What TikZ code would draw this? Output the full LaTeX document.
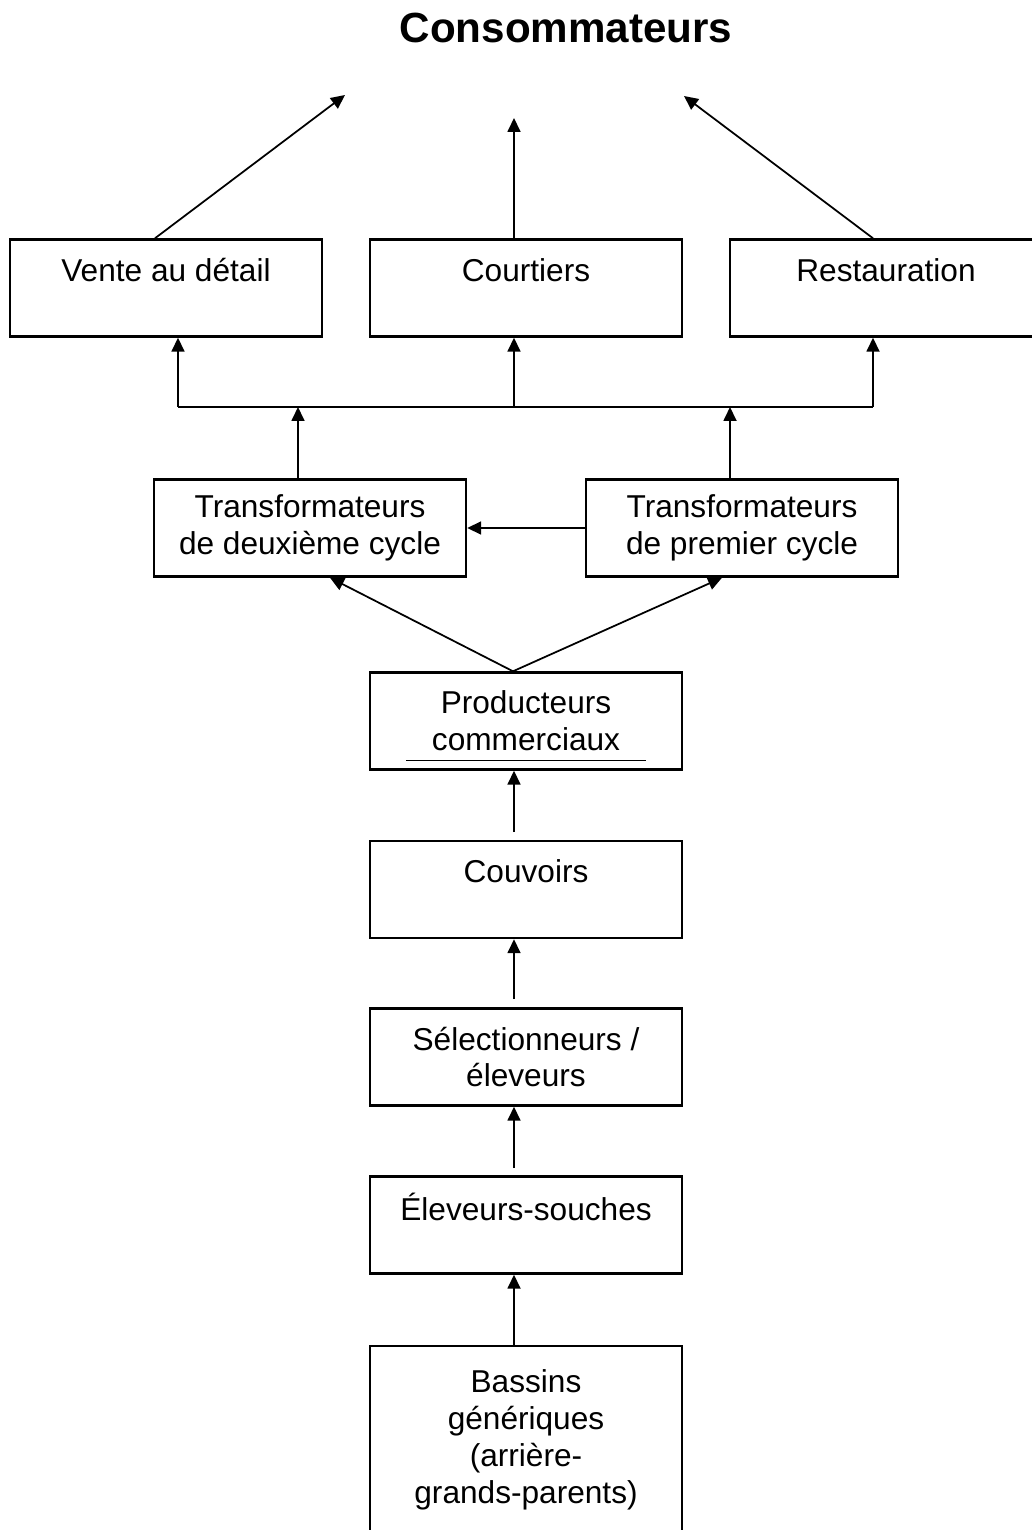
\documentclass[tikz,border=0pt]{standalone}
\usepackage{fontspec}
\setmainfont{Liberation Sans}
\usetikzlibrary{arrows.meta}
\tikzset{
   boite/.style={draw, line width=1.4pt, minimum width=6.24cm, minimum height=1.94cm,
      align=center, inner sep=0pt, font=\fontsize{18}{21}\selectfont},
   fleche/.style={line width=1pt, -{Triangle[length=0.28cm, width=0.26cm]}},
   titre/.style={font=\fontsize{24}{28}\selectfont\bfseries}
}
\begin{document}
\begin{tikzpicture}[x=0.02cm, y=-0.02cm]
      \useasboundingbox (0, 0) rectangle (1031, 1530);
      \node[titre] (conso) at (566, 28) {Consommateurs};
      \node[boite] (vente) at (166, 288) {Vente au détail\\~};
      \node[boite] (courtiers) at (526, 288) {Courtiers\\~};
      \node[boite] (resto) at (886, 288) {Restauration\\~};
      \node[boite] (deuxieme) at (310, 528) {Transformateurs\\de deuxième cycle};
      \node[boite] (premier) at (742, 528) {Transformateurs\\de premier cycle};
      \node[boite] (producteurs) at (526, 721) {Producteurs\\commerciaux};
      \node[boite] (couvoirs) at (526, 889.5) {Couvoirs\\~};
      \node[boite] (selection) at (526, 1057) {Sélectionneurs /\\éleveurs};
      \node[boite] (eleveurs) at (526, 1225) {Éleveurs-souches\\~};
      \node[boite, minimum height=4.36cm] (bassins) at (526, 1455)
         {Bassins\\génériques\\(arrière-\\grands-parents)\\~};
      \draw[line width=0.6pt] ([xshift=0.74cm, yshift=0.2cm]producteurs.south west)
         -- ([xshift=-0.74cm, yshift=0.2cm]producteurs.south east);
      \coordinate (c1) at (345, 95);
      \coordinate (c2) at (514, 118);
      \coordinate (c3) at (684, 96);
      \draw[fleche] ([xshift=-0.22cm]vente.north) -- (c1);
      \draw[fleche] ([xshift=-0.24cm]courtiers.north) -- (c2);
      \draw[fleche] ([xshift=-0.26cm]resto.north) -- (c3);
      \coordinate (b1) at (178, 407);
      \coordinate (b2) at (514, 407);
      \coordinate (b3) at (873, 407);
      \draw[line width=1pt] (b1) -- (b3);
      \foreach \c/\n in {b1/vente, b2/courtiers, b3/resto} {
         \draw[fleche] (\c) -- (\c |- \n.south);
      }
      \coordinate (t1) at (298, 407);
      \coordinate (t2) at (730, 407);
      \draw[fleche] (t1 |- deuxieme.north) -- (t1);
      \draw[fleche] (t2 |- premier.north) -- (t2);
      \draw[fleche] (premier.west) -- (deuxieme.east);
      \draw[fleche] ([xshift=-0.26cm]producteurs.north) -- ([xshift=0.4cm]deuxieme.south);
      \draw[fleche] ([xshift=-0.26cm]producteurs.north) -- ([xshift=-0.4cm]premier.south);
      \foreach \n/\y in {producteurs/832, couvoirs/999, selection/1168} {
         \draw[fleche] (514, \y) -- (514, \y |- \n.south);
      }
      \draw[fleche] ([xshift=-0.24cm]bassins.north) -- ([xshift=-0.24cm]eleveurs.south);
   \end{tikzpicture}
\end{document}
